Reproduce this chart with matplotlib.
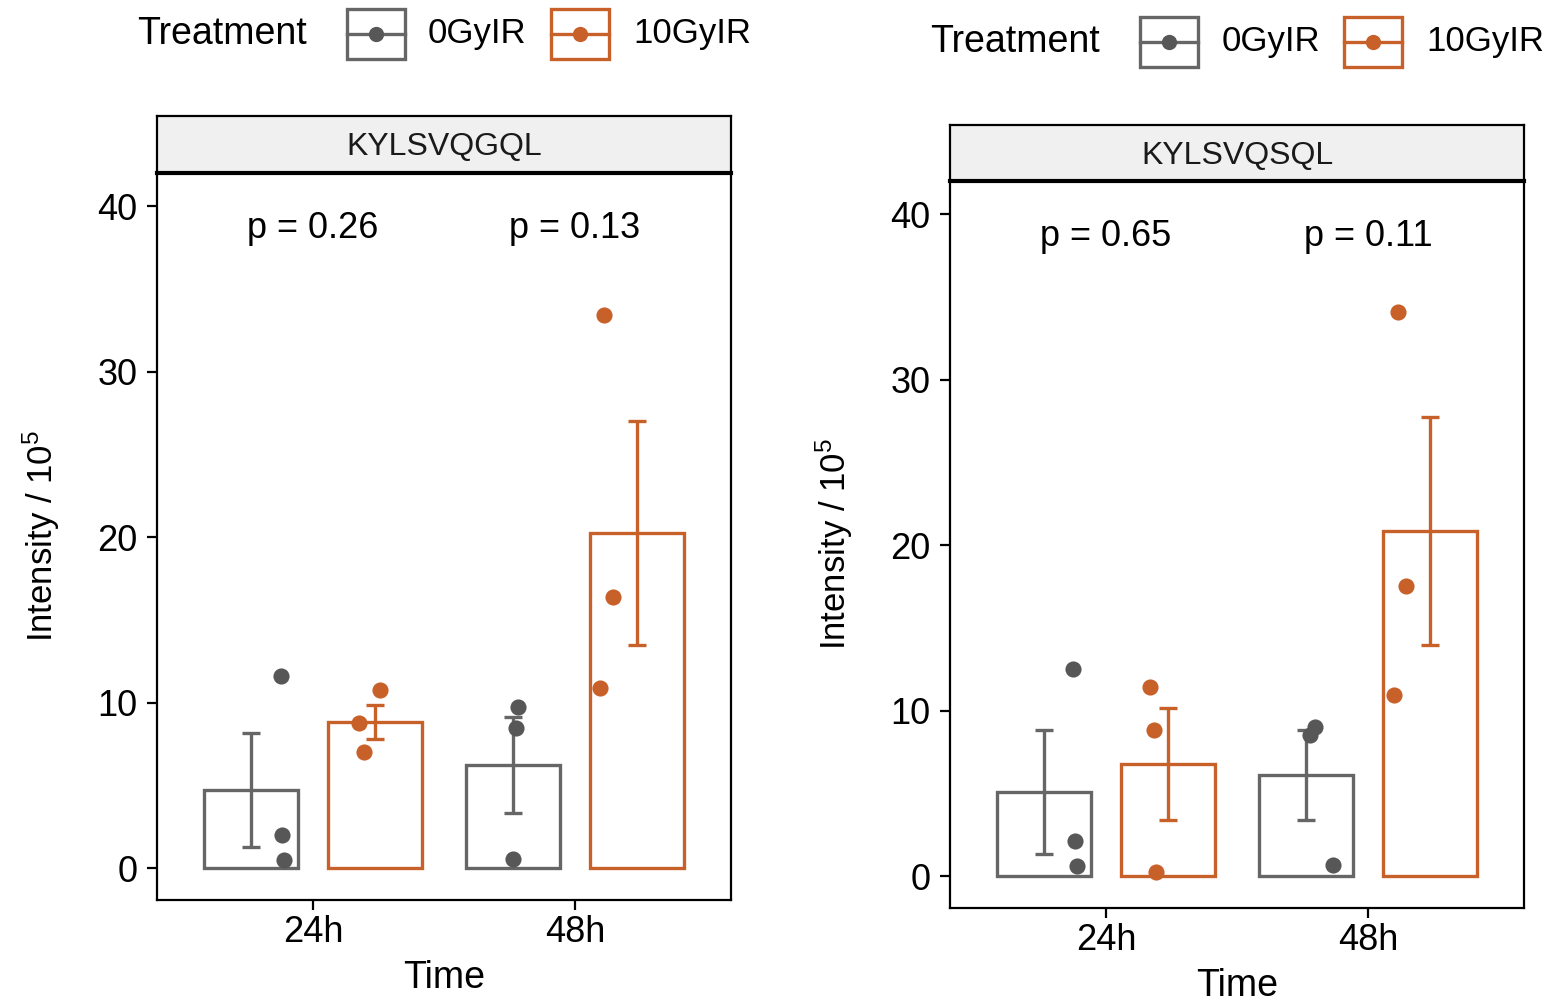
# Peptide intensity bar charts (two panels)

import matplotlib.pyplot as plt
from matplotlib.patches import Rectangle
from matplotlib.lines import Line2D

plt.rcParams["font.family"] = ["Liberation Sans", "DejaVu Sans"]

# --------------------------------------------
# Data
# --------------------------------------------

times = ["24h", "48h"]
treatments = ["0GyIR", "10GyIR"]
peptides = ["KYLSVQGQL", "KYLSVQSQL"]

# KYLSVQGQL
gql_mean_0 = [4.71, 6.22]
gql_mean_10 = [8.82, 20.24]
gql_se_0 = [3.45, 2.90]
gql_se_10 = [1.04, 6.76]
gql_pts_0 = [[11.6, 2.0, 0.5], [9.73, 8.46, 0.54]]
gql_pts_10 = [[10.75, 8.76, 7.01], [33.4, 16.4, 10.9]]
gql_jit_0 = [[0.115, 0.118, 0.126], [0.02, 0.01, 0.0]]
gql_jit_10 = [[0.02, -0.06, -0.044], [-0.126, -0.092, -0.141]]
gql_p = ["p = 0.26", "p = 0.13"]

# KYLSVQSQL
sql_mean_0 = [5.08, 6.10]
sql_mean_10 = [6.77, 20.85]
sql_se_0 = [3.75, 2.72]
sql_se_10 = [3.38, 6.87]
sql_pts_0 = [[12.5, 2.1, 0.6], [9.0, 8.52, 0.66]]
sql_pts_10 = [[11.42, 8.82, 0.24], [34.1, 17.5, 10.94]]
sql_jit_0 = [[0.11, 0.118, 0.126], [0.034, 0.015, 0.103]]
sql_jit_10 = [[-0.069, -0.053, -0.046], [-0.122, -0.092, -0.137]]
sql_p = ["p = 0.65", "p = 0.11"]

# --------------------------------------------
# Style
# --------------------------------------------

W, H = 1555, 996

edge_colors = ["#666666", "#C8602A"]
point_colors = ["#575757", "#C8602A"]

dodge = 0.237
bar_width = 0.358


def fx(x):
    return x / W


def fy(y):
    return 1 - y / H


fig = plt.figure(figsize=(W / 100, H / 100), dpi=100)


# --------------------------------------------
# Panel drawing
# --------------------------------------------

def draw_panel(box, strip, title, means, ses, pts, jits, pvals):
    x0, y0, x1, y1 = box
    ax = fig.add_axes([fx(x0), fy(y1), fx(x1) - fx(x0), fy(y0) - fy(y1)])

    pos = [1, 2]
    for k in range(2):
        xs = [p + (2 * k - 1) * dodge for p in pos]
        ax.bar(xs, means[k], width=bar_width, facecolor="white",
               edgecolor=edge_colors[k], linewidth=2.4, zorder=2)
        ax.errorbar(xs, means[k], yerr=ses[k], fmt="none",
                    ecolor=edge_colors[k], elinewidth=2.4, capsize=6.3,
                    capthick=2.4, zorder=3)
        for i in range(2):
            ax.scatter([xs[i] + j for j in jits[k][i]], pts[k][i], s=135,
                       color=point_colors[k], linewidths=0, zorder=4)

    for i in range(2):
        ax.text(pos[i], 38.1, pvals[i], ha="center", va="baseline",
                fontsize=26)

    ax.set_xlim(0.405, 2.595)
    ax.set_ylim(-1.93, 42.0)
    ax.set_xticks(pos)
    ax.set_xticklabels(times)
    ax.set_yticks([0, 10, 20, 30, 40])
    ax.tick_params(axis="both", labelsize=26, length=7, width=1.6,
                   color="black")
    ax.tick_params(axis="y", pad=7)
    ax.tick_params(axis="x", pad=4)

    for s in ax.spines.values():
        s.set_linewidth(1.6)
        s.set_color("black")

    ax.set_xlabel("Time", fontsize=27)
    ax.xaxis.set_label_coords(0.5, -0.083)
    ax.set_ylabel(r"Intensity / $\mathregular{10^5}$", fontsize=25)
    ax.yaxis.set_label_coords(-0.165, 0.5)

    # strip on top
    sy0, sy1 = strip
    sax = fig.add_axes([fx(x0), fy(sy1), fx(x1) - fx(x0), fy(sy0) - fy(sy1)])
    sax.set_facecolor("#F0F0F0")
    sax.set_xticks([])
    sax.set_yticks([])
    for s in sax.spines.values():
        s.set_linewidth(1.6)
        s.set_color("black")
    sax.spines["bottom"].set_linewidth(3)
    sax.text(0.5, 0.45, title, ha="center", va="center", fontsize=23,
             color="#1A1A1A", transform=sax.transAxes)


draw_panel((157, 173, 731, 900), (116, 173), peptides[0],
           [gql_mean_0, gql_mean_10], [gql_se_0, gql_se_10],
           [gql_pts_0, gql_pts_10], [gql_jit_0, gql_jit_10], gql_p)

draw_panel((950, 181, 1524, 908), (125, 181), peptides[1],
           [sql_mean_0, sql_mean_10], [sql_se_0, sql_se_10],
           [sql_pts_0, sql_pts_10], [sql_jit_0, sql_jit_10], sql_p)


# --------------------------------------------
# Legends (drawn by hand, title on the left)
# --------------------------------------------

def draw_legend(title_x, cy, keys_x, labels_x):
    fig.text(fx(title_x), fy(cy), "Treatment", ha="left", va="center",
             fontsize=27)
    for k in range(2):
        kx0, kx1 = keys_x[k]
        fig.add_artist(Rectangle((fx(kx0), fy(cy + 25)), fx(kx1) - fx(kx0),
                                 fy(cy - 25) - fy(cy + 25),
                                 transform=fig.transFigure, facecolor="white",
                                 edgecolor=edge_colors[k], linewidth=2.4))
        fig.add_artist(Line2D([fx(kx0), fx(kx1)], [fy(cy), fy(cy)],
                              transform=fig.transFigure,
                              color=edge_colors[k], linewidth=2.4))
        fig.add_artist(Line2D([fx((kx0 + kx1) / 2)], [fy(cy)],
                              transform=fig.transFigure, marker="o",
                              markersize=11, markeredgewidth=0,
                              color=point_colors[k]))
        fig.text(fx(labels_x[k]), fy(cy), treatments[k], ha="left",
                 va="center", fontsize=25)


draw_legend(137, 34, [(347, 405), (551, 609)], [428, 633])
draw_legend(930, 42, [(1140, 1198), (1344, 1402)], [1222, 1426])

plt.savefig("out.png", dpi=100)
plt.close()
